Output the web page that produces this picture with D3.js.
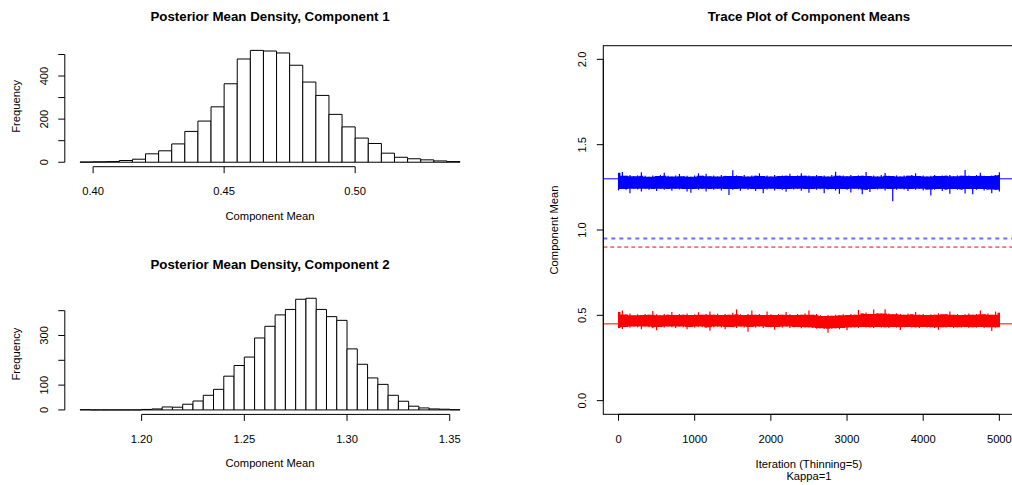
<!DOCTYPE html>
<html>
<head>
<meta charset="utf-8">
<script src="https://cdn.jsdelivr.net/npm/d3@7"></script>
<style>
  html, body { margin: 0; padding: 0; background: #ffffff; }
  svg { display: block; font-family: "Liberation Sans", Arial, Helvetica, sans-serif; }
</style>
</head>
<body>
<svg id="chart" width="1012" height="485"></svg>
<script>
// ---- Component 1 posterior mean: histogram counts, bins of 0.005 starting at 0.395
const comp1BinStart = 0.395;
const comp1BinWidth = 0.005;
const comp1Counts = [1, 2, 3, 8, 14, 39, 53, 85, 143, 191, 257, 364, 479, 519, 516,
                     507, 450, 372, 310, 222, 164, 112, 87, 42, 23, 16, 11, 6, 3];
const comp1XTicks = [0.40, 0.45, 0.50];
const comp1YTicks = [0, 100, 200, 300, 400, 500];
const comp1YLabels = [0, 200, 400];

// ---- Component 2 posterior mean: histogram counts, bins of 0.005 starting at 1.170
const comp2BinStart = 1.170;
const comp2BinWidth = 0.005;
const comp2Counts = [1, 0, 0, 0, 0, 0, 2, 4, 12, 11, 23, 36, 59, 83, 136, 179, 213, 290,
                     337, 383, 405, 446, 450, 405, 376, 361, 246, 184, 129, 103, 59, 35,
                     15, 8, 4, 3, 1];
const comp2XTicks = [1.20, 1.25, 1.30, 1.35];
const comp2YTicks = [0, 100, 200, 300, 400];
const comp2YLabels = [0, 100, 300];

// ---- Trace of both component means (thinned chain), upper / lower extent every 50 iterations
const traceIter = d3.range(0, 5001, 50);
const comp2TraceHi = [1.335, 1.340, 1.318, 1.322, 1.315, 1.320, 1.338, 1.318, 1.312, 1.320,
  1.316, 1.322, 1.335, 1.318, 1.314, 1.320, 1.328, 1.315, 1.318, 1.312,
  1.320, 1.332, 1.318, 1.330, 1.315, 1.320, 1.314, 1.322, 1.318, 1.316,
  1.350, 1.320, 1.316, 1.322, 1.314, 1.320, 1.318, 1.332, 1.316, 1.320,
  1.314, 1.322, 1.316, 1.320, 1.318, 1.330, 1.316, 1.320, 1.332, 1.318,
  1.320, 1.315, 1.322, 1.316, 1.320, 1.314, 1.322, 1.342, 1.318, 1.320,
  1.315, 1.322, 1.316, 1.320, 1.318, 1.340, 1.316, 1.320, 1.314, 1.322,
  1.334, 1.318, 1.316, 1.320, 1.314, 1.320, 1.318, 1.322, 1.332, 1.316,
  1.320, 1.314, 1.318, 1.322, 1.316, 1.320, 1.318, 1.322, 1.315, 1.320,
  1.318, 1.352, 1.320, 1.316, 1.322, 1.336, 1.318, 1.316, 1.320, 1.322, 1.338];
const comp2TraceLo = [1.232, 1.240, 1.236, 1.215, 1.242, 1.238, 1.225, 1.242, 1.236, 1.240,
  1.228, 1.242, 1.236, 1.240, 1.230, 1.242, 1.238, 1.240, 1.225, 1.218,
  1.240, 1.236, 1.242, 1.226, 1.240, 1.236, 1.242, 1.232, 1.240, 1.205,
  1.236, 1.240, 1.230, 1.242, 1.236, 1.240, 1.228, 1.240, 1.215, 1.238,
  1.242, 1.232, 1.240, 1.236, 1.224, 1.240, 1.238, 1.242, 1.230, 1.240,
  1.218, 1.240, 1.236, 1.242, 1.215, 1.238, 1.240, 1.232, 1.212, 1.240,
  1.236, 1.220, 1.242, 1.238, 1.210, 1.236, 1.222, 1.240, 1.238, 1.242,
  1.232, 1.240, 1.168, 1.236, 1.242, 1.238, 1.228, 1.240, 1.236, 1.242,
  1.232, 1.238, 1.202, 1.236, 1.240, 1.228, 1.238, 1.212, 1.240, 1.236,
  1.238, 1.214, 1.240, 1.210, 1.236, 1.240, 1.232, 1.238, 1.215, 1.236, 1.225];
const comp1TraceHi = [0.520, 0.528, 0.505, 0.510, 0.500, 0.506, 0.502, 0.508, 0.504, 0.525,
  0.506, 0.500, 0.508, 0.504, 0.520, 0.502, 0.508, 0.504, 0.510, 0.502,
  0.506, 0.518, 0.504, 0.508, 0.522, 0.504, 0.510, 0.502, 0.508, 0.504,
  0.515, 0.535, 0.506, 0.502, 0.508, 0.528, 0.504, 0.508, 0.502, 0.522,
  0.506, 0.502, 0.508, 0.504, 0.520, 0.506, 0.502, 0.508, 0.504, 0.510,
  0.528, 0.504, 0.508, 0.500, 0.496, 0.502, 0.498, 0.504, 0.500, 0.506,
  0.502, 0.508, 0.504, 0.532, 0.510, 0.516, 0.508, 0.534, 0.512, 0.510,
  0.535, 0.510, 0.506, 0.512, 0.508, 0.504, 0.510, 0.506, 0.520, 0.504,
  0.508, 0.502, 0.506, 0.504, 0.512, 0.506, 0.508, 0.522, 0.504, 0.508,
  0.502, 0.506, 0.510, 0.504, 0.508, 0.528, 0.506, 0.510, 0.504, 0.522, 0.515];
const comp1TraceLo = [0.425, 0.420, 0.432, 0.428, 0.434, 0.430, 0.418, 0.434, 0.430, 0.424,
  0.412, 0.432, 0.428, 0.434, 0.430, 0.426, 0.434, 0.430, 0.418, 0.432,
  0.428, 0.434, 0.430, 0.426, 0.410, 0.430, 0.434, 0.428, 0.418, 0.432,
  0.430, 0.426, 0.434, 0.428, 0.404, 0.432, 0.428, 0.434, 0.426, 0.432,
  0.430, 0.416, 0.432, 0.428, 0.434, 0.426, 0.430, 0.432, 0.424, 0.430,
  0.428, 0.426, 0.422, 0.424, 0.420, 0.398, 0.422, 0.424, 0.418, 0.426,
  0.412, 0.428, 0.430, 0.426, 0.432, 0.428, 0.430, 0.426, 0.432, 0.428,
  0.430, 0.426, 0.432, 0.428, 0.414, 0.430, 0.432, 0.428, 0.430, 0.426,
  0.432, 0.428, 0.430, 0.426, 0.415, 0.430, 0.428, 0.432, 0.426, 0.430,
  0.428, 0.432, 0.426, 0.430, 0.428, 0.432, 0.426, 0.430, 0.408, 0.428, 0.430];
const traceXTicks = [0, 1000, 2000, 3000, 4000, 5000];
const traceYTicks = [0.0, 0.5, 1.0, 1.5, 2.0];
const traceXRange = [0, 5000];
const traceYRange = [0, 2];
// Solid: true component means; dashed: starting values
const solidLevels = [0.45, 1.30];
const dashedLevels = [0.90, 0.95];

// ---- Drawing
const svg = d3.select("#chart");
const AXIS_FONT = 11.2;
const TITLE_FONT = 13.3;
const TICK_LEN = 6.5;

// Axis ranges are widened by 4% on each side, as for a standard statistical plot.
function widen([a, b]) {
  const d = (b - a) * 0.04;
  return [a - d, b + d];
}

function bottomAxis(g, scale, ticks, yPos, fmt) {
  g.append("line")
    .attr("x1", scale(ticks[0])).attr("x2", scale(ticks[ticks.length - 1]))
    .attr("y1", yPos).attr("y2", yPos)
    .attr("stroke", "#000").attr("stroke-width", 1);
  g.selectAll(null).data(ticks).enter().append("line")
    .attr("x1", d => scale(d)).attr("x2", d => scale(d))
    .attr("y1", yPos).attr("y2", yPos + TICK_LEN)
    .attr("stroke", "#000").attr("stroke-width", 1);
  g.selectAll(null).data(ticks).enter().append("text")
    .attr("x", d => scale(d)).attr("y", yPos + 28.5)
    .attr("text-anchor", "middle")
    .attr("font-size", AXIS_FONT)
    .text(fmt);
}

function leftAxis(g, scale, ticks, labels, xPos, fmt) {
  g.append("line")
    .attr("x1", xPos).attr("x2", xPos)
    .attr("y1", scale(ticks[0])).attr("y2", scale(ticks[ticks.length - 1]))
    .attr("stroke", "#000").attr("stroke-width", 1);
  g.selectAll(null).data(ticks).enter().append("line")
    .attr("x1", xPos - TICK_LEN).attr("x2", xPos)
    .attr("y1", d => scale(d)).attr("y2", d => scale(d))
    .attr("stroke", "#000").attr("stroke-width", 1);
  g.selectAll(null).data(labels).enter().append("text")
    .attr("transform", d => `translate(${xPos - 17.3},${scale(d)}) rotate(-90)`)
    .attr("text-anchor", "middle")
    .attr("font-size", AXIS_FONT)
    .text(fmt);
}

function histogramPanel(opts) {
  const { box, binStart, binWidth, counts, xTicks, yTicks, yLabels, title, xFmt } = opts;
  const g = svg.append("g");
  const binEnd = binStart + counts.length * binWidth;
  const x = d3.scaleLinear().domain(widen([binStart, binEnd])).range([box.left, box.right]);
  const y = d3.scaleLinear().domain(widen([0, d3.max(counts)])).range([box.bottom, box.top]);

  // each bar as a closed outline, so empty bins still show as a line on the baseline
  g.selectAll("path.bar").data(counts).enter().append("path")
    .attr("class", "bar")
    .attr("d", (d, i) => {
      const x0 = x(binStart + i * binWidth), x1 = x(binStart + (i + 1) * binWidth);
      return `M${x0},${y(0)}V${y(d)}H${x1}V${y(0)}Z`;
    })
    .attr("fill", "#fff")
    .attr("stroke", "#000")
    .attr("stroke-width", 1);

  bottomAxis(g, x, xTicks, box.bottom, xFmt);
  leftAxis(g, y, yTicks, yLabels, box.left, d => d);

  const cx = (box.left + box.right) / 2;
  g.append("text")
    .attr("x", cx).attr("y", box.top - 25.2)
    .attr("text-anchor", "middle")
    .attr("font-size", TITLE_FONT).attr("font-weight", "bold")
    .text(title);
  g.append("text")
    .attr("x", cx).attr("y", box.bottom + 53)
    .attr("text-anchor", "middle")
    .attr("font-size", AXIS_FONT)
    .text("Component Mean");
  g.append("text")
    .attr("transform", `translate(${box.left - 45.2},${(box.top + box.bottom) / 2}) rotate(-90)`)
    .attr("text-anchor", "middle")
    .attr("font-size", AXIS_FONT)
    .text("Frequency");
}

const fmt2 = d3.format(".2f");

histogramPanel({
  box: { left: 64.8, right: 475.2, top: 45.9, bottom: 166.7 },
  binStart: comp1BinStart, binWidth: comp1BinWidth, counts: comp1Counts,
  xTicks: comp1XTicks, yTicks: comp1YTicks, yLabels: comp1YLabels,
  title: "Posterior Mean Density, Component 1", xFmt: fmt2
});

histogramPanel({
  box: { left: 64.8, right: 475.2, top: 293.8, bottom: 414.4 },
  binStart: comp2BinStart, binWidth: comp2BinWidth, counts: comp2Counts,
  xTicks: comp2XTicks, yTicks: comp2YTicks, yLabels: comp2YLabels,
  title: "Posterior Mean Density, Component 2", xFmt: fmt2
});

// ---- Trace plot
(function tracePanel() {
  const box = { left: 603.3, right: 1014.6, top: 45.7, bottom: 414.3 };
  const g = svg.append("g");
  const x = d3.scaleLinear().domain(widen(traceXRange)).range([box.left, box.right]);
  const y = d3.scaleLinear().domain(widen(traceYRange)).range([box.bottom, box.top]);

  // dashed starting values
  const dashedStyles = [
    { color: "#ff0000", width: 1, dash: "4,3" },
    { color: "#6b6bff", width: 2, dash: "4,4" }
  ];
  g.selectAll(null).data(dashedLevels).enter().append("line")
    .attr("x1", box.left).attr("x2", box.right)
    .attr("y1", d => y(d)).attr("y2", d => y(d))
    .attr("stroke", (d, i) => dashedStyles[i].color)
    .attr("stroke-width", (d, i) => dashedStyles[i].width)
    .attr("stroke-dasharray", (d, i) => dashedStyles[i].dash);

  // solid true means
  const solidColors = ["#ff0000", "#0000ff"];
  g.selectAll(null).data(solidLevels).enter().append("line")
    .attr("x1", box.left).attr("x2", box.right)
    .attr("y1", d => y(d)).attr("y2", d => y(d))
    .attr("stroke", (d, i) => solidColors[i])
    .attr("stroke-width", 1);

  // chain traces: a dense core band plus a thin stroke reaching each window's extremes
  const series = [
    { hi: comp2TraceHi, lo: comp2TraceLo, color: "#0000ff" },
    { hi: comp1TraceHi, lo: comp1TraceLo, color: "#ff0000" }
  ];
  series.forEach(s => {
    const n = traceIter.length;
    const win = i => [Math.max(0, i - 1), i, Math.min(n - 1, i + 1)];
    const coreHi = traceIter.map((_, i) => d3.min(win(i), j => s.hi[j]));
    const coreLo = traceIter.map((_, i) => d3.max(win(i), j => s.lo[j]));
    const core = d3.area()
      .curve(d3.curveStep)
      .x((d, i) => x(traceIter[i]))
      .y0((d, i) => y(coreLo[i]))
      .y1((d, i) => y(coreHi[i]));
    g.append("path")
      .attr("d", core(traceIter))
      .attr("fill", s.color);
    g.selectAll(null).data(traceIter).enter().append("line")
      .attr("x1", d => x(d)).attr("x2", d => x(d))
      .attr("y1", (d, i) => y(s.lo[i])).attr("y2", (d, i) => y(s.hi[i]))
      .attr("stroke", s.color)
      .attr("stroke-width", 1.2);
  });

  // frame
  g.append("rect")
    .attr("x", box.left).attr("y", box.top)
    .attr("width", box.right - box.left).attr("height", box.bottom - box.top)
    .attr("fill", "none").attr("stroke", "#000").attr("stroke-width", 1);

  bottomAxis(g, x, traceXTicks, box.bottom, d => d);
  leftAxis(g, y, traceYTicks, traceYTicks, box.left, d3.format(".1f"));

  const cx = (box.left + box.right) / 2;
  g.append("text")
    .attr("x", cx).attr("y", box.top - 25)
    .attr("text-anchor", "middle")
    .attr("font-size", TITLE_FONT).attr("font-weight", "bold")
    .text("Trace Plot of Component Means");
  g.append("text")
    .attr("x", cx).attr("y", box.bottom + 53.2)
    .attr("text-anchor", "middle")
    .attr("font-size", AXIS_FONT)
    .text("Iteration (Thinning=5)");
  g.append("text")
    .attr("x", cx).attr("y", box.bottom + 65.8)
    .attr("text-anchor", "middle")
    .attr("font-size", AXIS_FONT)
    .text("Kappa=1");
  g.append("text")
    .attr("transform", `translate(${box.left - 45.3},${(box.top + box.bottom) / 2}) rotate(-90)`)
    .attr("text-anchor", "middle")
    .attr("font-size", AXIS_FONT)
    .text("Component Mean");
})();
</script>
</body>
</html>
